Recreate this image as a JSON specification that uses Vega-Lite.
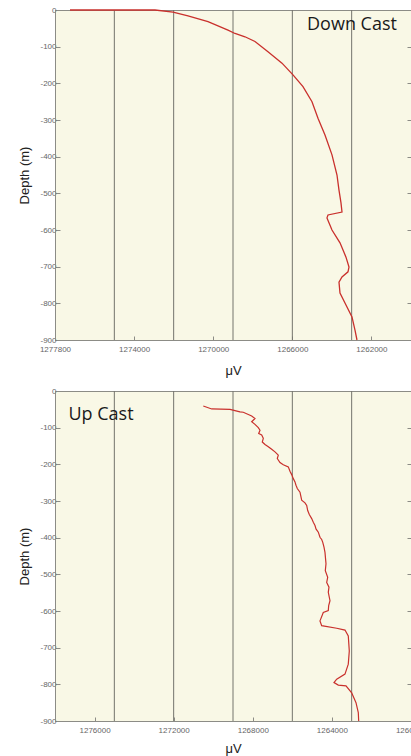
{
  "$schema": "https://vega.github.io/schema/vega-lite/v6.json",
  "padding": {"left": 18, "top": 5, "right": 0, "bottom": 0},
  "spacing": 8,
  "config": {
    "font": "Liberation Sans",
    "view": {"fill": "#f9f8e6", "stroke": "#8c8c86", "strokeWidth": 1},
    "axis": {
      "grid": false,
      "domainColor": "#8c8c86",
      "tickColor": "#8c8c86",
      "labelColor": "#666666",
      "labelFontSize": 8,
      "labelFont": "Liberation Sans",
      "titleFont": "Liberation Sans",
      "titleFontWeight": "normal",
      "titleColor": "#222222",
      "titleFontSize": 13
    }
  },
  "datasets": {
    "grid": [{"v": 1275000}, {"v": 1272000}, {"v": 1269000}, {"v": 1266000}, {"v": 1263000}],
    "down": [
      {"i": 1, "v": 1277242, "d": 0},
      {"i": 2, "v": 1272944, "d": 0},
      {"i": 3, "v": 1272034, "d": -6},
      {"i": 4, "v": 1271276, "d": -16},
      {"i": 5, "v": 1270264, "d": -32},
      {"i": 6, "v": 1269253, "d": -55},
      {"i": 7, "v": 1268899, "d": -64},
      {"i": 8, "v": 1268394, "d": -73},
      {"i": 9, "v": 1267888, "d": -86},
      {"i": 10, "v": 1267231, "d": -114},
      {"i": 11, "v": 1266523, "d": -145},
      {"i": 12, "v": 1265967, "d": -177},
      {"i": 13, "v": 1265461, "d": -209},
      {"i": 14, "v": 1265006, "d": -250},
      {"i": 15, "v": 1264703, "d": -295},
      {"i": 16, "v": 1264349, "d": -341},
      {"i": 17, "v": 1263995, "d": -395},
      {"i": 18, "v": 1263742, "d": -450},
      {"i": 19, "v": 1263641, "d": -491},
      {"i": 20, "v": 1263540, "d": -526},
      {"i": 21, "v": 1263489, "d": -551},
      {"i": 22, "v": 1264197, "d": -559},
      {"i": 23, "v": 1264248, "d": -567},
      {"i": 24, "v": 1263995, "d": -600},
      {"i": 25, "v": 1263590, "d": -635},
      {"i": 26, "v": 1263287, "d": -674},
      {"i": 27, "v": 1263135, "d": -701},
      {"i": 28, "v": 1263186, "d": -714},
      {"i": 29, "v": 1263489, "d": -728},
      {"i": 30, "v": 1263641, "d": -742},
      {"i": 31, "v": 1263590, "d": -772},
      {"i": 32, "v": 1263338, "d": -799},
      {"i": 33, "v": 1262984, "d": -837},
      {"i": 34, "v": 1262832, "d": -873},
      {"i": 35, "v": 1262731, "d": -900}
    ],
    "up": [
      {"i": 1, "v": 1270502, "d": -41},
      {"i": 2, "v": 1270077, "d": -49},
      {"i": 3, "v": 1269152, "d": -50},
      {"i": 4, "v": 1268646, "d": -57},
      {"i": 5, "v": 1268480, "d": -58},
      {"i": 6, "v": 1268055, "d": -68},
      {"i": 7, "v": 1267888, "d": -75},
      {"i": 8, "v": 1268055, "d": -84},
      {"i": 9, "v": 1267888, "d": -91},
      {"i": 10, "v": 1267721, "d": -100},
      {"i": 11, "v": 1267635, "d": -107},
      {"i": 12, "v": 1267701, "d": -116},
      {"i": 13, "v": 1267550, "d": -120},
      {"i": 14, "v": 1267468, "d": -129},
      {"i": 15, "v": 1267519, "d": -139},
      {"i": 16, "v": 1267382, "d": -146},
      {"i": 17, "v": 1267215, "d": -152},
      {"i": 18, "v": 1267044, "d": -159},
      {"i": 19, "v": 1266877, "d": -166},
      {"i": 20, "v": 1266710, "d": -175},
      {"i": 21, "v": 1266761, "d": -184},
      {"i": 22, "v": 1266624, "d": -195},
      {"i": 23, "v": 1266457, "d": -201},
      {"i": 24, "v": 1266204, "d": -207},
      {"i": 25, "v": 1266119, "d": -219},
      {"i": 26, "v": 1266032, "d": -228},
      {"i": 27, "v": 1265951, "d": -239},
      {"i": 28, "v": 1265866, "d": -248},
      {"i": 29, "v": 1265815, "d": -257},
      {"i": 30, "v": 1265749, "d": -266},
      {"i": 31, "v": 1265613, "d": -276},
      {"i": 32, "v": 1265562, "d": -289},
      {"i": 33, "v": 1265527, "d": -298},
      {"i": 34, "v": 1265360, "d": -305},
      {"i": 35, "v": 1265274, "d": -312},
      {"i": 36, "v": 1265223, "d": -326},
      {"i": 37, "v": 1265142, "d": -337},
      {"i": 38, "v": 1265021, "d": -348},
      {"i": 39, "v": 1264940, "d": -358},
      {"i": 40, "v": 1264854, "d": -367},
      {"i": 41, "v": 1264804, "d": -376},
      {"i": 42, "v": 1264687, "d": -385},
      {"i": 43, "v": 1264602, "d": -399},
      {"i": 44, "v": 1264516, "d": -405},
      {"i": 45, "v": 1264465, "d": -412},
      {"i": 46, "v": 1264399, "d": -426},
      {"i": 47, "v": 1264349, "d": -440},
      {"i": 48, "v": 1264313, "d": -462},
      {"i": 49, "v": 1264298, "d": -471},
      {"i": 50, "v": 1264333, "d": -490},
      {"i": 51, "v": 1264212, "d": -508},
      {"i": 52, "v": 1264263, "d": -522},
      {"i": 53, "v": 1264147, "d": -535},
      {"i": 54, "v": 1264182, "d": -549},
      {"i": 55, "v": 1264096, "d": -572},
      {"i": 56, "v": 1264162, "d": -585},
      {"i": 57, "v": 1264182, "d": -599},
      {"i": 58, "v": 1264435, "d": -604},
      {"i": 59, "v": 1264602, "d": -627},
      {"i": 60, "v": 1264516, "d": -640},
      {"i": 61, "v": 1263757, "d": -647},
      {"i": 62, "v": 1263338, "d": -652},
      {"i": 63, "v": 1263171, "d": -668},
      {"i": 64, "v": 1263120, "d": -709},
      {"i": 65, "v": 1263171, "d": -745},
      {"i": 66, "v": 1263338, "d": -772},
      {"i": 67, "v": 1263757, "d": -786},
      {"i": 68, "v": 1263894, "d": -795},
      {"i": 69, "v": 1263676, "d": -802},
      {"i": 70, "v": 1263287, "d": -804},
      {"i": 71, "v": 1262999, "d": -823},
      {"i": 72, "v": 1262781, "d": -850},
      {"i": 73, "v": 1262665, "d": -877},
      {"i": 74, "v": 1262645, "d": -900}
    ],
    "downLabel": [{"v": 1262984, "d": -41, "t": "Down Cast"}],
    "upLabel": [{"v": 1275674, "d": -66, "t": "Up Cast"}]
  },
  "vconcat": [
    {
      "width": 356,
      "height": 330,
      "resolve": {"axis": {"y": "independent"}},
      "layer": [
        {
          "data": {"name": "grid"},
          "mark": {"type": "rule", "color": "#74746c", "strokeWidth": 1},
          "encoding": {
            "x": {"field": "v", "type": "quantitative", "scale": {"domain": [1278000, 1260000], "nice": false, "zero": false}}
          }
        },
        {
          "data": {"name": "down"},
          "mark": {"type": "line", "color": "#c9302c", "strokeWidth": 1.3},
          "encoding": {
            "x": {
              "field": "v", "type": "quantitative",
              "scale": {"domain": [1278000, 1260000], "nice": false, "zero": false},
              "axis": {
                "title": "μV",
                "values": [1278000, 1276000, 1274000, 1272000, 1270000, 1268000, 1266000, 1264000, 1262000, 1260000],
                "labelExpr": "datum.value == 1278000 ? '1277800' : (indexof([1274000, 1270000, 1266000, 1262000], datum.value) >= 0 ? format(datum.value, 'd') : '')",
                "tickSize": -4,
                "labelPadding": 9,
                "titlePadding": 11,
                "labelOverlap": false,
                "labelFlush": false
              }
            },
            "y": {
              "field": "d", "type": "quantitative",
              "scale": {"domain": [-900, 0], "nice": false, "zero": false},
              "axis": {
                "title": "Depth (m)",
                "values": [0, -100, -200, -300, -400, -500, -600, -700, -800, -900],
                "labelExpr": "'' + datum.value",
                "tickSize": -5,
                "labelPadding": 4,
                "titlePadding": 8
              }
            },
            "order": {"field": "i", "type": "quantitative"}
          }
        },
        {
          "data": {"name": "downLabel"},
          "mark": {"type": "text", "font": "Open Sans", "fontSize": 18, "color": "#1a1a1a", "align": "center", "baseline": "middle"},
          "encoding": {
            "x": {"field": "v", "type": "quantitative"},
            "y": {
              "field": "d", "type": "quantitative",
              "axis": {"orient": "right", "labels": false, "domain": false, "title": null, "tickSize": -4,
                       "values": [0, -100, -200, -300, -400, -500, -600, -700, -800, -900]}
            },
            "text": {"field": "t"}
          }
        }
      ]
    },
    {
      "width": 356,
      "height": 330,
      "resolve": {"axis": {"y": "independent"}},
      "layer": [
        {
          "data": {"name": "grid"},
          "mark": {"type": "rule", "color": "#74746c", "strokeWidth": 1},
          "encoding": {
            "x": {"field": "v", "type": "quantitative", "scale": {"domain": [1278000, 1260000], "nice": false, "zero": false}}
          }
        },
        {
          "data": {"name": "up"},
          "mark": {"type": "line", "color": "#c9302c", "strokeWidth": 1.2},
          "encoding": {
            "x": {
              "field": "v", "type": "quantitative",
              "scale": {"domain": [1278000, 1260000], "nice": false, "zero": false},
              "axis": {
                "title": "μV",
                "values": [1276000, 1272000, 1268000, 1264000, 1260000],
                "format": "d",
                "tickSize": -4,
                "labelPadding": 9,
                "titlePadding": 8,
                "labelOverlap": false,
                "labelFlush": false
              }
            },
            "y": {
              "field": "d", "type": "quantitative",
              "scale": {"domain": [-900, 0], "nice": false, "zero": false},
              "axis": {
                "title": "Depth (m)",
                "values": [0, -100, -200, -300, -400, -500, -600, -700, -800, -900],
                "labelExpr": "'' + datum.value",
                "tickSize": -5,
                "labelPadding": 4,
                "titlePadding": 8
              }
            },
            "order": {"field": "i", "type": "quantitative"}
          }
        },
        {
          "data": {"name": "upLabel"},
          "mark": {"type": "text", "font": "Open Sans", "fontSize": 18, "color": "#1a1a1a", "align": "center", "baseline": "middle"},
          "encoding": {
            "x": {"field": "v", "type": "quantitative"},
            "y": {
              "field": "d", "type": "quantitative",
              "axis": {"orient": "right", "labels": false, "domain": false, "title": null, "tickSize": -4,
                       "values": [0, -100, -200, -300, -400, -500, -600, -700, -800, -900]}
            },
            "text": {"field": "t"}
          }
        }
      ]
    }
  ]
}
